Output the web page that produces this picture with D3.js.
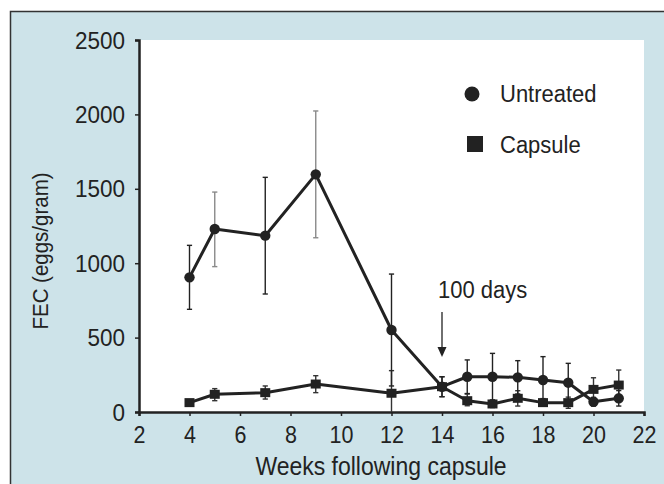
<!DOCTYPE html>
<html>
<head>
<meta charset="utf-8">
<script src="https://cdn.jsdelivr.net/npm/d3@7"></script>
<style>
  html, body { margin: 0; padding: 0; background: #ffffff; }
  svg { display: block; }
  text { font-family: "Liberation Sans", Arial, sans-serif; fill: #222; }
</style>
</head>
<body>
<svg id="chart" width="664" height="484"></svg>
<script>
// ---- data ----
const weeks = [4, 5, 7, 9, 12, 14, 15, 16, 17, 18, 19, 20, 21];
const untreated     = [905, 1230, 1185, 1597, 551, 170, 237, 237, 233, 215, 197, 69, 92];
const untreatedLow  = [690, 977, 793, 1171, 175, 103, 124, 80, 121, 58, 67, 40, 40];
const untreatedHigh = [1120, 1478, 1577, 2023, 927, 237, 350, 394, 345, 372, 327, 98, 144];
const capsule       = [63, 119, 130, 188, 126, 170, 76, 54, 92, 63, 63, 152, 181];
const capsuleLow    = [63, 76, 87, 130, 0, 103, 42, 30, 40, 40, 25, 75, 80];
const capsuleHigh   = [63, 157, 175, 244, 278, 237, 121, 80, 143, 90, 100, 230, 282];
const xTicks = [2, 4, 6, 8, 10, 12, 14, 16, 18, 20, 22];
const yTicks = [0, 500, 1000, 1500, 2000, 2500];
const seriesNames = ["Untreated", "Capsule"];
const annotation = { week: 14, text: "100 days" };
const xTitle = "Weeks following capsule";
const yTitle = "FEC (eggs/gram)";

// ---- layout ----
const svg = d3.select("#chart");
const plot = { left: 139, right: 644, top: 40, bottom: 412 };
const ink = "#222";
const stretch = "scale(1,1.1)";

const x = d3.scaleLinear().domain([2, 22]).range([plot.left, plot.right]);
const y = d3.scaleLinear().domain([0, 2500]).range([plot.bottom, plot.top]);

// outer panel
svg.append("rect")
  .attr("x", 10.5).attr("y", 11.5).attr("width", 700).attr("height", 500)
  .attr("fill", "#cde3e9").attr("stroke", "#333").attr("stroke-width", 1.5);

// white plot area
svg.append("rect")
  .attr("x", plot.left).attr("y", plot.top)
  .attr("width", plot.right - plot.left).attr("height", plot.bottom - plot.top)
  .attr("fill", "#ffffff");

// axes
const xAxis = svg.append("g")
  .attr("transform", `translate(0,${plot.bottom})`)
  .call(d3.axisBottom(x).tickValues(xTicks).tickSize(4).tickPadding(6).tickFormat(d3.format("d")));
const yAxis = svg.append("g")
  .attr("transform", `translate(${plot.left},0)`)
  .call(d3.axisLeft(y).tickValues(yTicks).tickSize(4).tickPadding(10).tickFormat(d3.format("d")));
[xAxis, yAxis].forEach(g => {
  g.select(".domain").attr("stroke", ink).attr("stroke-width", 2.5);
  g.selectAll(".tick line").attr("stroke", ink).attr("stroke-width", 1.5);
  g.selectAll(".tick text").style("fill", ink)
    .attr("font-family", "Liberation Sans, Arial, sans-serif")
    .attr("transform", stretch);
});
xAxis.selectAll(".tick text").attr("font-size", 21.5).attr("dy", "0.85em");
yAxis.selectAll(".tick text").attr("font-size", 22.5).attr("dy", "0.33em");

// text helper with slight vertical stretch
function label(px, py, str, size, anchor, rot) {
  return svg.append("text")
    .attr("transform", `translate(${px},${py})` + (rot ? ` rotate(${rot})` : "") + " " + stretch)
    .attr("text-anchor", anchor || "start").attr("font-size", size)
    .text(str);
}

// axis titles
label(381, 475, xTitle, 23, "middle");
label(48, 251, yTitle, 20.5, "middle", -90);

// error bars
const greyWeeks = new Set([5, 9]);
function errorBars(lo, hi, colorFn) {
  const g = svg.append("g");
  weeks.forEach((w, i) => {
    if (hi[i] === lo[i]) return;
    const cx = x(w);
    const c = colorFn(w);
    g.append("line").attr("x1", cx).attr("x2", cx)
      .attr("y1", y(lo[i])).attr("y2", y(hi[i]))
      .attr("stroke", c).attr("stroke-width", 1.4);
    [lo[i], hi[i]].forEach(v => {
      if (v <= 0) return;
      g.append("line").attr("x1", cx - 2.6).attr("x2", cx + 2.6)
        .attr("y1", y(v)).attr("y2", y(v))
        .attr("stroke", c).attr("stroke-width", 1.4);
    });
  });
}
errorBars(capsuleLow, capsuleHigh, () => "#333");
errorBars(untreatedLow, untreatedHigh, w => greyWeeks.has(w) ? "#8a8a8a" : "#222");

// lines
const line = d3.line().x((d, i) => x(weeks[i])).y(d => y(d));
[untreated, capsule].forEach(s => {
  svg.append("path").datum(s).attr("d", line)
    .attr("fill", "none").attr("stroke", ink).attr("stroke-width", 3).attr("stroke-linejoin", "round");
});

// markers
svg.append("g").selectAll("circle").data(untreated).join("circle")
  .attr("cx", (d, i) => x(weeks[i])).attr("cy", d => y(d)).attr("r", 5.2)
  .attr("fill", ink);
const sq = 10;
svg.append("g").selectAll("rect").data(capsule).join("rect")
  .attr("x", (d, i) => x(weeks[i]) - sq / 2).attr("y", d => y(d) - sq / 2 + 0.5)
  .attr("width", sq).attr("height", sq - 1)
  .attr("fill", ink);

// legend
svg.append("circle").attr("cx", 472).attr("cy", 94).attr("r", 7.5).attr("fill", ink);
label(500, 102, seriesNames[0], 22);
svg.append("rect").attr("x", 467).attr("y", 136).attr("width", 16).attr("height", 16).attr("fill", ink);
label(500, 153, seriesNames[1], 22);

// annotation arrow
const ax = x(annotation.week);
label(ax - 4, 298, annotation.text, 22);
svg.append("line").attr("x1", ax).attr("x2", ax).attr("y1", 312).attr("y2", 348)
  .attr("stroke", ink).attr("stroke-width", 1.3);
svg.append("path")
  .attr("d", `M${ax - 4.5},${347} L${ax + 4.5},${347} L${ax},${357} Z`)
  .attr("fill", ink);
</script>
</body>
</html>
